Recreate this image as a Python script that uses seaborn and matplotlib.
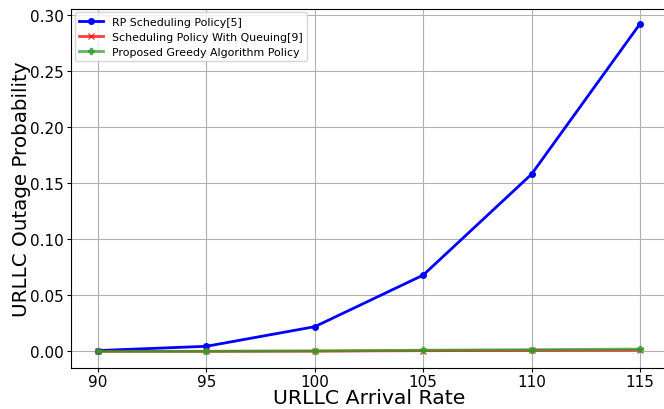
import matplotlib
matplotlib.use("Agg")
import matplotlib.pyplot as plt
import seaborn as sns
import pandas as pd

arrival_rate = [90, 95, 100, 105, 110, 115]
rp_policy = [0.0007, 0.0045, 0.022, 0.068, 0.158, 0.292]
queuing_policy = [0.0, 0.0, 0.0002, 0.0006, 0.0008, 0.001]
greedy_policy = [0.0, 0.0, 0.0003, 0.001, 0.0015, 0.002]

labels = ["RP Scheduling Policy[5]", "Scheduling Policy With Queuing[9]",
          "Proposed Greedy Algorithm Policy"]
series = [rp_policy, queuing_policy, greedy_policy]
colors = ["#0000ff", "#ff0000", "#2ca02c"]
markers = ["o", "x", "P"]
alphas = [1.0, 0.75, 0.75]

plt.rcParams["font.family"] = ["DejaVu Sans"]

W, H = 664, 410
fig = plt.figure(figsize=(W / 100, H / 100), dpi=100)
ax = fig.add_axes([71 / W, 1 - 368.7 / H, 596 / W, 359.2 / H])
for lab, vals, c, m, a in zip(labels, series, colors, markers, alphas):
    df = pd.DataFrame({"x": arrival_rate, "y": vals})
    sns.lineplot(data=df, x="x", y="y", ax=ax, color=c, marker=m, markersize=4,
                 markeredgewidth=1, markeredgecolor=c, linewidth=2, alpha=a, label=lab)

ax.set_xticks(arrival_rate)
ax.set_xlim(88.75, 116.25)
ax.set_ylim(-0.0146, 0.3058)
ax.set_yticks([0, 0.05, 0.10, 0.15, 0.20, 0.25, 0.30])
ax.set_yticklabels(["0.00", "0.05", "0.10", "0.15", "0.20", "0.25", "0.30"])
ax.grid(True, color="#b0b0b0", linewidth=0.8)
ax.tick_params(axis="y", labelsize=11, pad=2.2, length=3.2)
ax.tick_params(axis="x", labelsize=11, pad=1.5, length=3.2)
ax.set_xlabel("URLLC Arrival Rate", fontsize=14.7)
ax.set_ylabel("URLLC Outage Probability", fontsize=14.3)
ax.xaxis.set_label_coords(0.5, -0.0565)
ax.yaxis.set_label_coords(-0.0675, 0.5)
for s in ax.spines.values():
    s.set_color("black")
ax.legend(loc="upper left", fontsize=7.9, frameon=True, handlelength=2.2,
          borderaxespad=0.35, labelspacing=0.45)
fig.savefig("out.png", dpi=100)
